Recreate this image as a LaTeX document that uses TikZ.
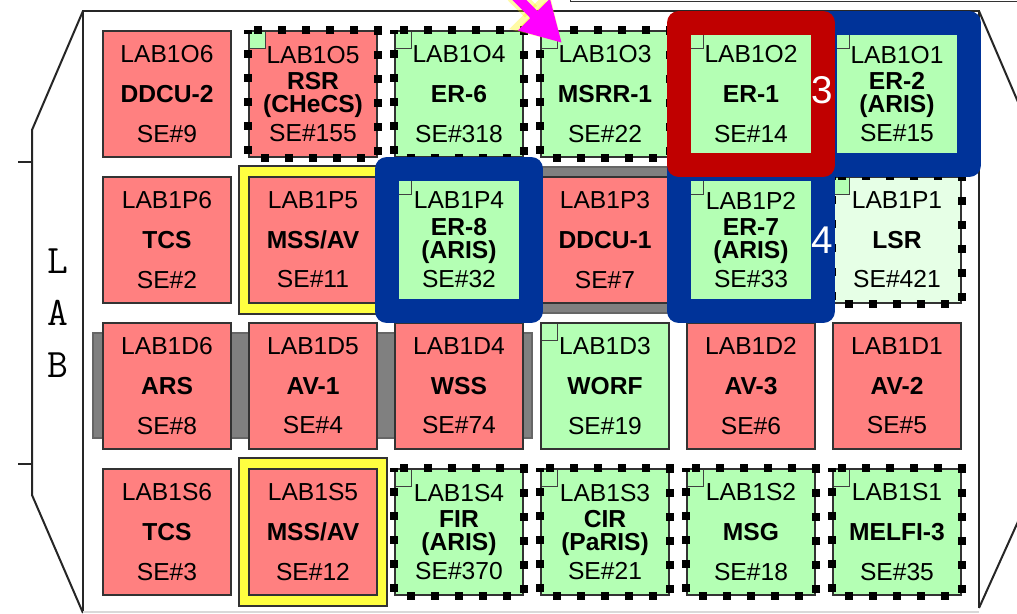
\documentclass[tikz,border=0pt]{standalone}
\usepackage{fontspec}
\setmainfont{Liberation Sans}
\usetikzlibrary{arrows.meta,fit}

\definecolor{rackred}{HTML}{FF8080}
\definecolor{rackgreen}{HTML}{B4FFB4}
\definecolor{rackpale}{HTML}{E6FFE6}
\definecolor{hlblue}{HTML}{003399}
\definecolor{hlred}{HTML}{C00000}
\definecolor{frameyellow}{HTML}{FFFF40}
\definecolor{standoff}{HTML}{808080}
\definecolor{pointerpink}{HTML}{FF00FF}

\tikzset{
	rack/.style={draw=black!80, line width=0.3mm, minimum width=25.6mm, minimum height=25.2mm,
		inner sep=0pt, align=center, font=\fontsize{14}{13}\selectfont},
	redrack/.style={rack, fill=rackred},
	greenrack/.style={rack, fill=rackgreen},
	palerack/.style={rack, fill=rackpale},
	notched/.style={path picture={\draw[draw=black!75, line width=0.2mm, fill=rackgreen]
		(path picture bounding box.north west) rectangle ++(16,17);}},
	rackdots/.style={draw=black, line width=1.6mm, dash pattern=on 1.6mm off 3.2mm, dash phase=0.8mm},
	hilite/.style={draw=#1, line width=4.8mm, line join=round, inner sep=1.5mm},
	hlnum/.style={text=white, font=\fontsize{22}{22}\selectfont, inner sep=0pt},
	frame/.style={draw=black!85, line width=0.4mm},
	bay/.style={font=\ttfamily\fontsize{23}{23}\selectfont, inner sep=0pt},
	pointer/.style={draw=pointerpink, fill=pointerpink, line width=2mm,
		-{Triangle[length=8mm,width=8.4mm]},
		preaction={draw=yellow, opacity=0.35, line width=3.4mm, -{Triangle[length=9.4mm,width=10.4mm]}}}
}

\begin{document}
\begin{tikzpicture}[x=0.2mm, y=-0.2mm]
	\useasboundingbox (0,0) rectangle (1017,614);

	% module outline
	\draw[black!80] (570,-5) -- (570,1.5) -- (1030,1.5);
	\draw[frame] (83,613) -- (83,11) -- (979,11) -- (979,608);
	\draw[frame] (83,11) -- (32,130) -- (32,495) -- (83,613);
	\draw[frame] (979,11) -- (1030,130);
	\draw[frame] (979,608) -- (1030,495);
	\draw[frame] (18,162) -- (32,162);
	\draw[frame] (18,464) -- (32,464);
	\draw[black!15, line width=0.3mm] (83,612) -- (979,612);

	\node[bay] (bayl) at (58,261) {L};
	\node[bay] (baya) at (58,313) {A};
	\node[bay] (bayb) at (58,365) {B};

	% standoffs and yellow frames behind the racks
	\draw[fill=standoff, draw=black!60, line width=0.3mm] (93,333) rectangle (532,438);
	\draw[fill=standoff, draw=black!60, line width=0.3mm] (520,167) rectangle (690,313);
	\draw[fill=frameyellow, draw=black!80, line width=0.3mm] (239,166) rectangle (387,314);
	\draw[fill=frameyellow, draw=black!80, line width=0.3mm] (239,458) rectangle (387,606);

	% row O
	\node[redrack] (o6) at (167,94) {LAB1O6\\[9.5pt]\textbf{DDCU-2}\\[9.5pt]SE\#9};
	\node[redrack, notched] (o5) at (313,94) {LAB1O5\\[2.3pt]\textbf{RSR}\\\textbf{(CHeCS)}\\[3.5pt]SE\#155};
	\node[greenrack, notched] (o4) at (459,94) {LAB1O4\\[9.5pt]\textbf{ER-6}\\[9.5pt]SE\#318};
	\node[greenrack, notched] (o3) at (605,94) {LAB1O3\\[9.5pt]\textbf{MSRR-1}\\[9.5pt]SE\#22};
	\node[greenrack, notched] (o2) at (751,94) {LAB1O2\\[9.5pt]\textbf{ER-1}\\[9.5pt]SE\#14};
	\node[greenrack, notched] (o1) at (897,94) {LAB1O1\\[2.3pt]\textbf{ER-2}\\\textbf{(ARIS)}\\[3.5pt]SE\#15};

	% row P
	\node[redrack] (p6) at (167,240) {LAB1P6\\[9.5pt]\textbf{TCS}\\[9.5pt]SE\#2};
	\node[redrack] (p5) at (313,240) {LAB1P5\\[9.5pt]\textbf{MSS/AV}\\[9.5pt]SE\#11};
	\node[greenrack, notched] (p4) at (459,240) {LAB1P4\\[2.3pt]\textbf{ER-8}\\\textbf{(ARIS)}\\[3.5pt]SE\#32};
	\node[redrack] (p3) at (605,240) {LAB1P3\\[9.5pt]\textbf{DDCU-1}\\[9.5pt]SE\#7};
	\node[greenrack, notched] (p2) at (751,240) {LAB1P2\\[2.3pt]\textbf{ER-7}\\\textbf{(ARIS)}\\[3.5pt]SE\#33};
	\node[palerack, notched] (p1) at (897,240) {LAB1P1\\[9.5pt]\textbf{LSR}\\[9.5pt]SE\#421};

	% row D
	\node[redrack] (d6) at (167,386) {LAB1D6\\[9.5pt]\textbf{ARS}\\[9.5pt]SE\#8};
	\node[redrack] (d5) at (313,386) {LAB1D5\\[9.5pt]\textbf{AV-1}\\[9.5pt]SE\#4};
	\node[redrack] (d4) at (459,386) {LAB1D4\\[9.5pt]\textbf{WSS}\\[9.5pt]SE\#74};
	\node[greenrack, notched] (d3) at (605,386) {LAB1D3\\[9.5pt]\textbf{WORF}\\[9.5pt]SE\#19};
	\node[redrack] (d2) at (751,386) {LAB1D2\\[9.5pt]\textbf{AV-3}\\[9.5pt]SE\#6};
	\node[redrack] (d1) at (897,386) {LAB1D1\\[9.5pt]\textbf{AV-2}\\[9.5pt]SE\#5};

	% row S
	\node[redrack] (s6) at (167,532) {LAB1S6\\[9.5pt]\textbf{TCS}\\[9.5pt]SE\#3};
	\node[redrack] (s5) at (313,532) {LAB1S5\\[9.5pt]\textbf{MSS/AV}\\[9.5pt]SE\#12};
	\node[greenrack, notched] (s4) at (459,532) {LAB1S4\\[2.3pt]\textbf{FIR}\\\textbf{(ARIS)}\\[3.5pt]SE\#370};
	\node[greenrack, notched] (s3) at (605,532) {LAB1S3\\[2.3pt]\textbf{CIR}\\\textbf{(PaRIS)}\\[3.5pt]SE\#21};
	\node[greenrack, notched] (s2) at (751,532) {LAB1S2\\[9.5pt]\textbf{MSG}\\[9.5pt]SE\#18};
	\node[greenrack, notched] (s1) at (897,532) {LAB1S1\\[9.5pt]\textbf{MELFI-3}\\[9.5pt]SE\#35};

	% dotted outlines
	\foreach \r in {o5,o4,o3,o2,o1,p4,p2,p1,s4,s3,s2,s1}
		\draw[rackdots] (\r.north west) rectangle (\r.south east);

	% highlighted racks
	\node[hilite=hlblue, fit=(o1)] (hlo1) {};
	\node[hilite=hlblue, fit=(p4)] (hlp4) {};
	\node[hilite=hlblue, fit=(p2)] (hlp2) {};
	\node[hilite=hlred, fit=(o2)] (hlo2) {};
	\node[hlnum] (num3) at (822,90) {3};
	\node[hlnum] (num4) at (822,240) {4};

	% pointer
	\coordinate (ptail) at (470,-50);
	\coordinate (ptip) at (562,43);
	\draw[pointer] (ptail) -- (ptip);

\end{tikzpicture}
\end{document}
